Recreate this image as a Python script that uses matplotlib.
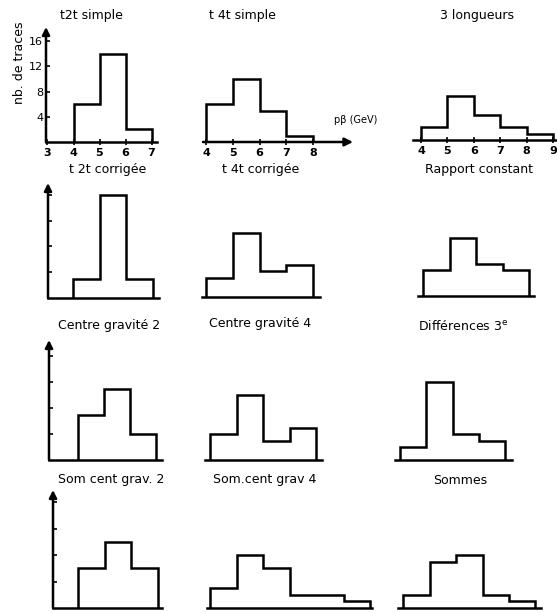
import matplotlib
matplotlib.use("Agg")
import matplotlib.pyplot as plt

# ---------------- data ----------------
titles = [
    "t2t simple", "t 4t simple", "3 longueurs",
    "t 2t corrigée", "t 4t corrigée", "Rapport constant",
    "Centre gravité 2", "Centre gravité 4", "Différences 3$^{\\mathrm{e}}$",
    "Som cent grav. 2", "Som.cent grav 4", "Sommes",
]

edges_t2t_simple = [4, 5, 6, 7]
counts_t2t_simple = [6, 14, 2]
edges_t4t_simple = [4, 5, 6, 7, 8]
counts_t4t_simple = [6, 10, 5, 1]
edges_3_longueurs = [4, 5, 6, 7, 8, 9]
counts_3_longueurs = [2, 7, 4, 2, 1]

edges_t2t_corr = [4, 5, 6, 7]
counts_t2t_corr = [3, 16, 3]
edges_t4t_corr = [4, 5, 6, 7, 8]
counts_t4t_corr = [3, 10, 4, 5]
edges_rapport = [4, 5, 6, 7, 8]
counts_rapport = [4, 9, 5, 4]

edges_cg2 = [4, 5, 6, 7]
counts_cg2 = [7, 11, 4]
edges_cg4 = [4, 5, 6, 7, 8]
counts_cg4 = [4, 10, 3, 5]
edges_diff3 = [4, 5, 6, 7, 8]
counts_diff3 = [2, 12, 4, 3]

edges_scg2 = [4, 5, 6, 7]
counts_scg2 = [6, 10, 6]
edges_scg4 = [4, 5, 6, 7, 8, 9, 10]
counts_scg4 = [3, 8, 6, 2, 2, 1]
edges_sommes = [4, 5, 6, 7, 8, 9]
counts_sommes = [2, 7, 8, 2, 1]

yticks_vals = [4, 8, 12, 16]
xticks_t2t = [3, 4, 5, 6, 7]
xticks_t4t = [4, 5, 6, 7, 8]
xticks_3l = [4, 5, 6, 7, 8, 9]

panels = [
    (edges_t2t_simple, counts_t2t_simple),
    (edges_t4t_simple, counts_t4t_simple),
    (edges_3_longueurs, counts_3_longueurs),
    (edges_t2t_corr, counts_t2t_corr),
    (edges_t4t_corr, counts_t4t_corr),
    (edges_rapport, counts_rapport),
    (edges_cg2, counts_cg2),
    (edges_cg4, counts_cg4),
    (edges_diff3, counts_diff3),
    (edges_scg2, counts_scg2),
    (edges_scg4, counts_scg4),
    (edges_sommes, counts_sommes),
]

# ---------------- layout (pixels) ----------------
W, H = 557, 613
# (pixel of x=4, px per GeV, baseline px, px per count, left px, right px, top px)
layout = [
    (73.5, 26.0, 142, 6.3, 46, 157, 27),
    (206, 26.75, 142, 6.3, 203, 353, 27),
    (421, 26.4, 140, 6.3, 413, 557, 27),
    (73, 26.7, 298, 6.45, 48, 159, 183),
    (206, 26.75, 297, 6.45, 202, 320, 183),
    (423, 26.5, 296, 6.45, 418, 534, 183),
    (77.6, 26.3, 460, 6.5, 49, 162, 340),
    (210, 26.5, 460, 6.5, 205, 322, 340),
    (400, 26.3, 460, 6.5, 395, 512, 340),
    (78, 26.6, 608, 6.6, 53, 162, 490),
    (210, 26.7, 608, 6.6, 207, 372, 490),
    (403.3, 26.4, 608, 6.6, 398, 541, 490),
]
title_pos = [
    (91, 15), (242, 15), (477, 15),
    (108, 170), (261, 170), (479, 170),
    (109, 326), (260, 324), (463, 326),
    (111, 480), (265, 480), (460, 480),
]

plt.rcParams['font.family'] = ['DejaVu Sans']
fig = plt.figure(figsize=(W / 100, H / 100), dpi=100)
fig.patch.set_facecolor('white')

LW = 1.8
for i, ((edges, counts), lay) in enumerate(zip(panels, layout)):
    x4, ppux, base, ppuy, left, right, top = lay
    rect = [left / W, 1 - base / H, (right - left) / W, (base - top) / H]
    ax = fig.add_axes(rect)
    ax.set_xlim(4 + (left - x4) / ppux, 4 + (right - x4) / ppux)
    ax.set_ylim(0, (base - top) / ppuy)
    ax.patch.set_alpha(0)
    for s in ['top', 'right']:
        ax.spines[s].set_visible(False)
    ax.spines['bottom'].set_linewidth(LW)
    ax.spines['left'].set_linewidth(LW)
    ax.stairs(counts, edges, color='black', linewidth=LW, baseline=0)

    col = i % 3
    row = i // 3
    has_y = (col == 0)
    if has_y:
        ax.spines['left'].set_visible(False)
        ax.annotate('', xy=(0, 1.0), xytext=(0, 0), xycoords='axes fraction',
                    arrowprops=dict(arrowstyle='-|>', lw=LW, color='black',
                                    mutation_scale=11, shrinkA=0, shrinkB=0))
        ax.set_yticks(yticks_vals)
        ax.tick_params(axis='y', direction='in', length=3, width=1.2)
        if row == 0:
            ax.set_yticklabels([str(v) for v in yticks_vals], fontsize=8)
            ax.tick_params(axis='y', pad=2)
        else:
            ax.set_yticklabels([])
    else:
        ax.spines['left'].set_visible(False)
        ax.set_yticks([])

    if row == 0:
        ticks = [xticks_t2t, xticks_t4t, xticks_3l][col]
        ax.set_xticks(ticks)
        ax.set_xticklabels([str(t) for t in ticks], fontsize=8, fontweight='bold')
        ax.tick_params(axis='x', direction='inout', length=4, width=1.2, pad=2)
    else:
        ax.set_xticks([])

    if i == 1:
        ax.spines['bottom'].set_visible(False)
        ax.annotate('', xy=(1.0, 0), xytext=(0, 0), xycoords='axes fraction',
                    arrowprops=dict(arrowstyle='-|>', lw=LW, color='black',
                                    mutation_scale=12, shrinkA=0, shrinkB=0))

    cx, cy = title_pos[i]
    fig.text(cx / W, 1 - cy / H, titles[i], ha='center', va='center', fontsize=9)

fig.text(20 / W, 1 - 63 / H, "nb. de traces", rotation=90, ha='center', va='center', fontsize=9)
fig.text(356 / W, 1 - 120 / H, "pβ (GeV)", ha='center', va='center', fontsize=7)

fig.savefig("out.png", dpi=100, facecolor='white')
